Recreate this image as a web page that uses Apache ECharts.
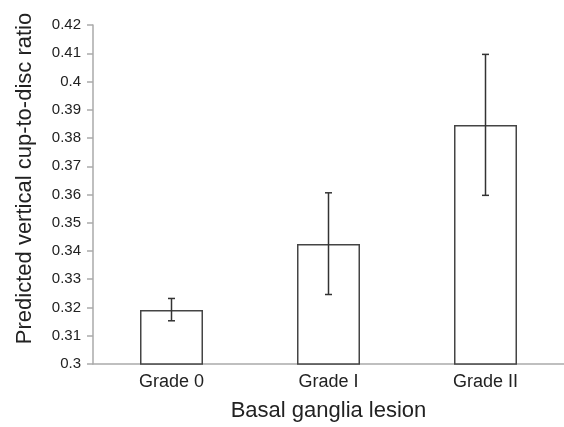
<!DOCTYPE html>
<html>
<head>
<meta charset="utf-8">
<script src="https://cdn.jsdelivr.net/npm/echarts@6/dist/echarts.min.js"></script>
<style>html,body{margin:0;padding:0;background:#fff;}#c{width:564px;height:427px;}</style>
</head>
<body>
<div id="c"></div>
<script>
const categories = ['Grade 0', 'Grade I', 'Grade II'];
const means = [0.3191, 0.3425, 0.3846];
const lower = [0.3153, 0.3246, 0.3597];
const upper = [0.3232, 0.3606, 0.4096];
const xTitle = 'Basal ganglia lesion';
const yTitle = 'Predicted vertical cup-to-disc ratio';

const chart = echarts.init(document.getElementById('c'), null, {renderer: 'canvas'});
const font = 'Liberation Sans, Arial, sans-serif';
chart.setOption({
  animation: false,
  backgroundColor: '#fff',
  grid: {left: 93, right: -4.5, top: 25, bottom: 57, containLabel: false},
  xAxis: {
    type: 'category',
    data: categories,
    axisLine: {lineStyle: {color: '#aaa', width: 1.5}},
    axisTick: {show: false},
    axisLabel: {color: '#222', fontSize: 18, fontFamily: font, margin: 9},
    name: xTitle,
    nameLocation: 'middle',
    nameGap: 47,
    nameTextStyle: {color: '#222', fontSize: 22, fontFamily: font, verticalAlign: 'middle', padding: [0, 0, 0, 0]}
  },
  yAxis: {
    type: 'value',
    min: 0.3,
    max: 0.42,
    interval: 0.01,
    axisLine: {show: true, lineStyle: {color: '#aaa', width: 1.5}},
    axisTick: {show: true, length: 6, lineStyle: {color: '#aaa', width: 1.5}},
    splitLine: {show: false},
    axisLabel: {color: '#222', fontSize: 15, fontFamily: font, margin: 12,
      formatter: v => String(parseFloat(v.toFixed(2)))},
    name: yTitle,
    nameLocation: 'middle',
    nameRotate: 90,
    nameGap: 68,
    nameTextStyle: {color: '#222', fontSize: 22, fontFamily: font, verticalAlign: 'middle', padding: [0, 0, 0, 32]}
  },
  series: [
    {
      type: 'bar',
      data: means,
      barWidth: 63,
      itemStyle: {color: '#fff', borderColor: '#444', borderWidth: 1.5},
      z: 2
    },
    {
      type: 'custom',
      z: 3,
      data: categories.map((c, i) => [i, lower[i], upper[i]]),
      renderItem: function (params, api) {
        const x = api.value(0);
        const lo = api.coord([x, api.value(1)]);
        const hi = api.coord([x, api.value(2)]);
        const cap = 3.5;
        const style = {stroke: '#333', lineWidth: 1.5};
        return {
          type: 'group',
          children: [
            {type: 'line', shape: {x1: hi[0], y1: hi[1], x2: lo[0], y2: lo[1]}, style: style},
            {type: 'line', shape: {x1: hi[0] - cap, y1: hi[1], x2: hi[0] + cap, y2: hi[1]}, style: style},
            {type: 'line', shape: {x1: lo[0] - cap, y1: lo[1], x2: lo[0] + cap, y2: lo[1]}, style: style}
          ]
        };
      }
    }
  ]
});
</script>
</body>
</html>
